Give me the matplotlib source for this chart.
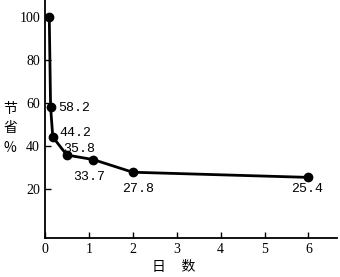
import matplotlib
matplotlib.use("Agg")
import matplotlib.pyplot as plt

# days and saving (%)
days = [0.1, 0.13, 0.18, 0.5, 1.1, 2, 6]
saving = [100, 58.2, 44.2, 35.8, 33.7, 27.8, 25.4]

# value labels: text, x, y (data coords)
label_text = ["58.2", "44.2", "35.8", "33.7", "27.8", "25.4"]
label_x = [0.3, 0.34, 0.42, 0.64, 1.75, 5.6]
label_y = [57.8, 46.0, 38.6, 25.6, 20.0, 20.0]

x_ticks = [0, 1, 2, 3, 4, 5, 6]
y_ticks = [20, 40, 60, 80, 100]

fig = plt.figure(figsize=(3.4, 2.77), dpi=100)
ax = fig.add_axes([0.132, 0.141, 0.858, 0.859])

ax.plot(days, saving, color='black', lw=2, marker='o', ms=6)

for t, xx, yy in zip(label_text, label_x, label_y):
    ax.text(xx, yy, t, family='Liberation Mono', fontsize=9.5, va='center', ha='left')

ax.set_xlim(0, 6.64)
ax.set_ylim(-2.8, 108)
ax.set_xticks(x_ticks)
ax.set_yticks(y_ticks)
ax.tick_params(direction='in', length=4, width=1, labelsize=10)
for lab in ax.get_xticklabels() + ax.get_yticklabels():
    lab.set_family('Liberation Serif')

for s in ['top', 'right']:
    ax.spines[s].set_visible(False)
for s in ['left', 'bottom']:
    ax.spines[s].set_linewidth(1.3)

# axis titles
fig.text(10 / 340, 1 - 128 / 277, "节\n省\n%", family=['Noto Sans CJK SC', 'DejaVu Sans'],
         fontsize=10, ha='center', va='center', linespacing=1.5)
fig.text(174 / 340, 1 - 267 / 277, "日     数", family=['Noto Sans CJK SC', 'DejaVu Sans'],
         fontsize=10, ha='center', va='center')

fig.savefig("out.png", dpi=100)
